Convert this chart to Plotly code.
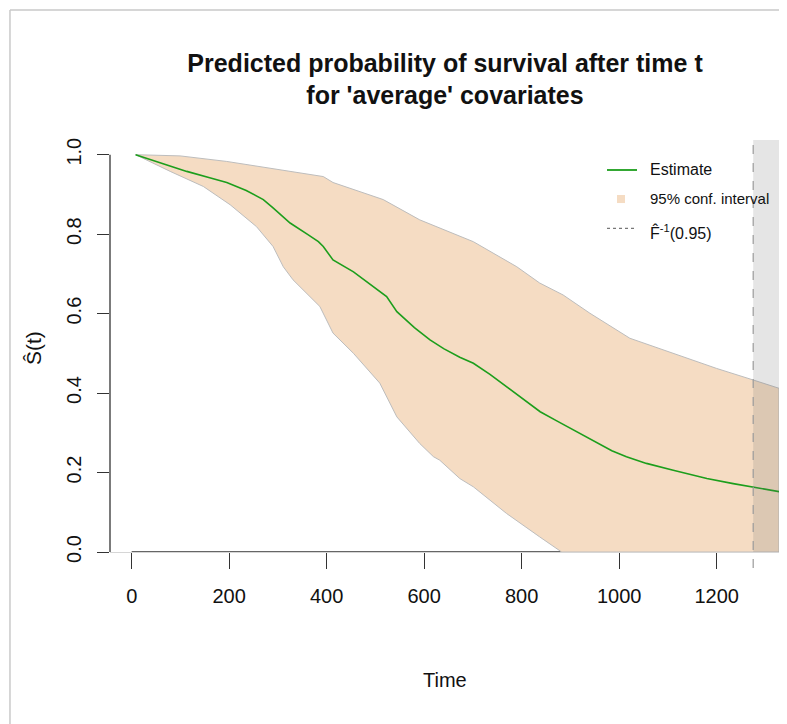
import plotly.graph_objects as go

# ---- data ----
est_t = [8, 60, 113, 160, 195, 235, 270, 290, 325, 360, 383, 393, 413, 455, 496, 523, 544, 580, 612, 640,
         673, 701, 735, 769, 803, 838, 872, 906, 954, 985, 1015, 1056, 1111, 1180, 1234, 1275, 1328]
est_s = [1.0, 0.980, 0.958, 0.942, 0.930, 0.910, 0.887, 0.866, 0.828, 0.800, 0.781, 0.769, 0.735, 0.705,
         0.668, 0.643, 0.605, 0.565, 0.534, 0.512, 0.490, 0.475, 0.447, 0.416, 0.385, 0.353, 0.330, 0.308,
         0.277, 0.255, 0.240, 0.223, 0.206, 0.185, 0.172, 0.164, 0.152]

upper_t = [8, 99, 195, 284, 393, 413, 516, 591, 632, 701, 790, 837, 885, 940, 1022, 1111, 1200, 1275, 1328]
upper_s = [1.0, 0.997, 0.983, 0.966, 0.945, 0.930, 0.887, 0.836, 0.815, 0.781, 0.718, 0.677, 0.647, 0.601,
           0.538, 0.500, 0.462, 0.433, 0.412]

lower_t = [8, 79, 147, 202, 256, 290, 311, 331, 386, 413, 455, 509, 544, 591, 619, 632, 673, 701, 769, 837,
           882, 1328]
lower_s = [1.0, 0.958, 0.920, 0.874, 0.819, 0.769, 0.718, 0.685, 0.618, 0.551, 0.500, 0.425, 0.340, 0.273,
           0.240, 0.231, 0.185, 0.164, 0.097, 0.038, 0.0, 0.0]

quantile_t = 1275
x_ticks = [0, 200, 400, 600, 800, 1000, 1200]
y_ticks = [0.0, 0.2, 0.4, 0.6, 0.8, 1.0]
y_tick_text = ["0.0", "0.2", "0.4", "0.6", "0.8", "1.0"]

FONT = "Liberation Sans, Arial, sans-serif"
GREEN = "#1c9e1c"
BAND = "#F5DCC3"

fig = go.Figure()

# confidence band polygon
fig.add_trace(go.Scatter(
    x=upper_t + lower_t[::-1], y=upper_s + lower_s[::-1],
    fill="toself", fillcolor=BAND, mode="lines",
    line=dict(color="#bdbdbd", width=1), showlegend=False, hoverinfo="skip"))

# estimate
fig.add_trace(go.Scatter(x=est_t, y=est_s, mode="lines",
                         line=dict(color=GREEN, width=1.6), showlegend=False))

shapes = []
# dark x axis line from first to last tick (under band)
shapes.append(dict(type="line", xref="x", yref="y", x0=x_ticks[0], x1=x_ticks[-1], y0=0, y1=0,
                   line=dict(color="#333333", width=1.3), layer="below"))
# y axis line
shapes.append(dict(type="line", xref="paper", yref="y", x0=0, x1=0, y0=y_ticks[0], y1=y_ticks[-1],
                   line=dict(color="#333333", width=1.3)))
# grey region beyond quantile
shapes.append(dict(type="rect", xref="x", yref="paper", x0=quantile_t, x1=1400, y0=0, y1=1,
                   fillcolor="rgba(110,110,110,0.18)", line=dict(width=0), layer="above"))
# dashed quantile line
shapes.append(dict(type="line", xref="x", yref="paper", x0=quantile_t, x1=quantile_t, y0=-0.039, y1=1,
                   line=dict(color="#9a9a9a", width=1.2, dash="dash")))
# outer frame (top + left)
shapes.append(dict(type="line", xref="paper", yref="paper", x0=-0.1493, x1=1.03, y0=1.3155, y1=1.3155,
                   line=dict(color="#c9c9c9", width=1.5)))
shapes.append(dict(type="line", xref="paper", yref="paper", x0=-0.1493, x1=-0.1493, y0=1.3155, y1=-0.45,
                   line=dict(color="#c9c9c9", width=1.5)))
# legend symbols
shapes.append(dict(type="line", xref="paper", yref="paper", x0=0.7418, x1=0.7866, y0=0.9272, y1=0.9272,
                   line=dict(color=GREEN, width=1.8)))
shapes.append(dict(type="rect", xref="paper", yref="paper", x0=0.7567, x1=0.7687, y0=0.847, y1=0.8665,
                   fillcolor=BAND, line=dict(width=0)))
shapes.append(dict(type="line", xref="paper", yref="paper", x0=0.7418, x1=0.7866, y0=0.7857, y1=0.7857,
                   line=dict(color="#777777", width=1.2, dash="dot")))

annotations = [
    dict(text="Estimate", x=0.803, y=0.9272, xref="paper", yref="paper", xanchor="left", yanchor="middle",
         showarrow=False, font=dict(size=16, color="#111111", family=FONT)),
    dict(text="95% conf. interval", x=0.803, y=0.8568, xref="paper", yref="paper", xanchor="left",
         yanchor="middle", showarrow=False, font=dict(size=15, color="#111111", family=FONT)),
    dict(text="F\u0302<sup>-1</sup>(0.95)", x=0.803, y=0.776, xref="paper", yref="paper", xanchor="left",
         yanchor="middle", showarrow=False, font=dict(size=16, color="#111111", family=FONT)),
    dict(text="Time", x=0.5, y=-0.311, xref="paper", yref="paper", xanchor="center", yanchor="middle",
         showarrow=False, font=dict(size=20, color="#111111", family=FONT)),
    dict(text="\u015C(t)", x=-0.115, y=0.495, xref="paper", yref="paper", xanchor="center",
         yanchor="middle", textangle=-90, showarrow=False, font=dict(size=21, color="#111111", family=FONT)),
]

fig.update_layout(
    width=779, height=716,
    margin=dict(l=102, r=7, t=132, b=172),
    paper_bgcolor="white", plot_bgcolor="white",
    title=dict(text="<b>Predicted probability of survival after time t<br>for 'average' covariates</b>",
               x=0.5, xref="paper", y=1 - 63.5 / 716, yref="container", xanchor="center", yanchor="middle",
               font=dict(size=25, color="#111111", family=FONT)),
    shapes=shapes, annotations=annotations,
    showlegend=False,
)
fig.update_xaxes(range=[-44.5, 1330], showgrid=False, zeroline=False, showline=True,
                 linecolor="#d6d6d6", linewidth=1,
                 tickmode="array", tickvals=x_ticks, ticks="outside", ticklen=16, tickwidth=1.3,
                 tickcolor="#333333", ticklabelstandoff=10,
                 tickfont=dict(size=20, color="#111111", family=FONT))
fig.update_yaxes(range=[0, 1.037], showgrid=False, zeroline=False, showline=False,
                 tickmode="array", tickvals=y_ticks, ticktext=y_tick_text, ticks="outside", ticklen=12,
                 tickwidth=1.3, tickcolor="#333333", tickangle=-90, ticklabelstandoff=8,
                 tickfont=dict(size=20, color="#111111", family=FONT))

fig.write_html("out.html")
